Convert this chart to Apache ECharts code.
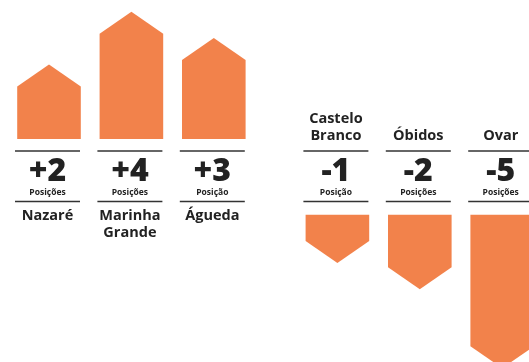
<!DOCTYPE html>
<html>
<head>
<meta charset="utf-8">
<script src="https://cdn.jsdelivr.net/npm/echarts@6/dist/echarts.min.js"></script>
<style>
  html, body { margin: 0; padding: 0; background: #ffffff; }
  #chart { width: 529px; height: 362px; }
</style>
</head>
<body>
<div id="chart"></div>
<script>
// Ranking changes per municipality
const cities = ['Nazaré', 'Marinha\nGrande', 'Águeda', 'Castelo\nBranco', 'Óbidos', 'Ovar'];
const changes = [2, 4, 3, -1, -2, -5];
const unitLabels = ['Posições', 'Posições', 'Posição', 'Posição', 'Posições', 'Posições'];

const ORANGE = '#F2824B';
const INK = '#222222';
const RULE = '#333333';
const FONT = '"Open Sans", "Noto Sans", sans-serif';
const HALF_W = 31.8;   // half width of each arrow
const ROOF = 22;       // height of the pointed tip
const RULE_HALF = 32.5;

// Slot along the x axis: risers first, then fallers after a wider gap
function slotOf(i) { return i + (changes[i] < 0 ? 0.5 : 0); }

function signed(v) { return (v > 0 ? '+' : '') + v; }

function labelBlock(cx, i, up) {
  const tx = cx - 1.5;
  const els = [
    { type: 'line', shape: { x1: tx - RULE_HALF, y1: 151, x2: tx + RULE_HALF, y2: 151 },
      style: { stroke: RULE, lineWidth: 1.3 } },
    { type: 'line', shape: { x1: tx - RULE_HALF, y1: 201.5, x2: tx + RULE_HALF, y2: 201.5 },
      style: { stroke: RULE, lineWidth: 1.3 } },
    { type: 'text', style: { text: signed(changes[i]), x: tx, y: 172, align: 'center', verticalAlign: 'middle',
      fontFamily: FONT, fontWeight: 800, fontSize: 32, fill: INK } },
    { type: 'text', style: { text: unitLabels[i], x: tx, y: 193, align: 'center', verticalAlign: 'middle',
      fontFamily: FONT, fontWeight: 'bold', fontSize: 8.5, fill: INK } }
  ];
  els.push({ type: 'text', style: {
    text: cities[i], x: tx, y: up ? 207.5 : 144.5, align: 'center', verticalAlign: up ? 'top' : 'bottom',
    lineHeight: 17, fontFamily: FONT, fontWeight: 'bold', fontSize: 14.5, fill: INK } });
  return els;
}

function renderUp(params, api) {
  const i = api.value(2);
  const top = api.coord([api.value(0), api.value(1)]);
  const base = api.coord([api.value(0), 0]);
  const cx = top[0];
  const shape = {
    type: 'polygon',
    shape: { points: [
      [cx - HALF_W, base[1]], [cx - HALF_W, top[1]], [cx, top[1] - ROOF],
      [cx + HALF_W, top[1]], [cx + HALF_W, base[1]]
    ] },
    style: { fill: ORANGE }
  };
  return { type: 'group', children: [shape].concat(labelBlock(cx, i, true)) };
}

function renderDown(params, api) {
  const i = api.value(2);
  const bottom = api.coord([api.value(0), api.value(1)]);
  const base = api.coord([api.value(0), 0]);
  const cx = bottom[0];
  const shape = {
    type: 'polygon',
    shape: { points: [
      [cx - HALF_W, base[1]], [cx + HALF_W, base[1]], [cx + HALF_W, bottom[1]],
      [cx, bottom[1] + ROOF], [cx - HALF_W, bottom[1]]
    ] },
    style: { fill: ORANGE }
  };
  return { type: 'group', children: [shape].concat(labelBlock(cx, i, false)) };
}

const upData = [], downData = [];
changes.forEach((v, i) => {
  (v > 0 ? upData : downData).push([slotOf(i), v, i]);
});

const hiddenAxis = { show: false, axisLine: { show: false }, splitLine: { show: false }, axisLabel: { show: false }, axisTick: { show: false } };

const chart = echarts.init(document.getElementById('chart'), null, { renderer: 'canvas' });
chart.setOption({
  animation: false,
  grid: [
    { left: 49, right: 26.8, top: 7.5, height: 131.5 },
    { left: 49, right: 26.8, top: 214.7, height: 131.5 }
  ],
  xAxis: [
    Object.assign({ type: 'value', min: 0, max: 5.5, gridIndex: 0 }, hiddenAxis),
    Object.assign({ type: 'value', min: 0, max: 5.5, gridIndex: 1 }, hiddenAxis)
  ],
  yAxis: [
    Object.assign({ type: 'value', min: 0, max: 5, gridIndex: 0 }, hiddenAxis),
    Object.assign({ type: 'value', min: -5, max: 0, gridIndex: 1 }, hiddenAxis)
  ],
  series: [
    { type: 'custom', xAxisIndex: 0, yAxisIndex: 0, clip: false, renderItem: renderUp,
      encode: { x: 0, y: 1 }, data: upData },
    { type: 'custom', xAxisIndex: 1, yAxisIndex: 1, clip: false, renderItem: renderDown,
      encode: { x: 0, y: 1 }, data: downData }
  ]
});
</script>
</body>
</html>
